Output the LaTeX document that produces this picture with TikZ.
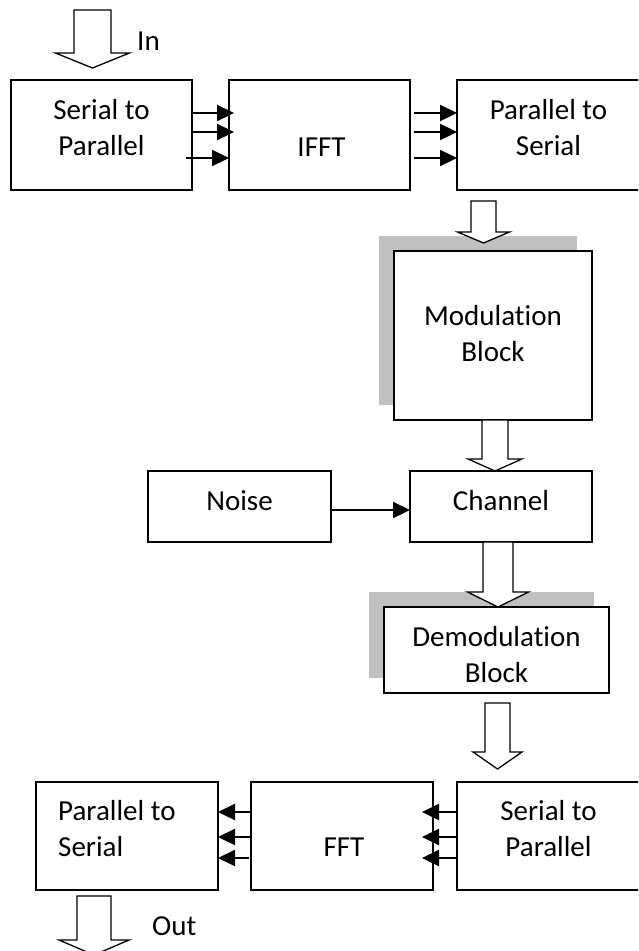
\documentclass[tikz,border=0pt]{standalone}
\usepackage{fontspec}
\setmainfont{Carlito}[Ligatures=NoCommon]
\usepackage{tikz}
\usetikzlibrary{positioning, arrows.meta, shadows, calc}
\definecolor{shadowgray}{RGB}{192,192,192}
\newcommand{\boxfont}{\fontsize{29}{36}\selectfont}
% hollow block arrow pointing down: x, from, to, half shaft, half head, head length
\newcommand{\hollowdown}[6]{%
  \draw[hollow] let \p1=(#2), \p2=(#3) in
    (#1pt-#4pt,\y1) -- (#1pt+#4pt,\y1) -- (#1pt+#4pt,\y2+#6pt) -- (#1pt+#5pt,\y2+#6pt)
    -- (#1pt,\y2) -- (#1pt-#5pt,\y2+#6pt) -- (#1pt-#4pt,\y2+#6pt) -- cycle;}
\tikzset{
x=1pt, y=-1pt, % one unit is one pixel, y runs downwards
>={Stealth[length=17pt,width=16pt,inset=0pt]}, % solid triangle heads
block/.style={draw, fill=white, line width=1.6pt, rectangle, inner sep=0pt, outer sep=0pt, anchor=north west}, % every box
raised/.style={drop shadow={shadow xshift=-15pt, shadow yshift=15.5pt, fill=shadowgray, opacity=1}}, % grey plate behind
txt/.style={font=\boxfont, align=center, inner sep=0pt, anchor=north}, % box texts
link/.style={->, line width=2.3pt}, % thin arrows between boxes
hollow/.style={draw, fill=white, line width=1.3pt}, % big open arrows
}
\begin{document}
\begin{tikzpicture}

    \useasboundingbox (0,0) rectangle (638,951);
    \clip (0,0) rectangle (638,951);
    \fill[white] (0,0) rectangle (638,951);

    % transmitter row
    \node[block, minimum width=181pt, minimum height=110pt] (sp1) at (11,80) {};
    \node[block, minimum width=181pt, minimum height=110pt, right=37pt of sp1] (ifft) {};
    \node[block, minimum width=183pt, minimum height=110pt, right=47pt of ifft] (ps1) {};

    % modulation, channel
    \node[block, raised, minimum width=198pt, minimum height=169pt] (mod) at (394,251) {};
    \node[block, minimum width=183pt, minimum height=71pt] (noise) at (148,471) {};
    \node[block, minimum width=182pt, minimum height=71pt, right=79pt of noise] (chan) {};
    \node[block, raised, minimum width=225pt, minimum height=86pt] (demod) at (384,607) {};

    % receiver row
    \node[block, minimum width=182pt, minimum height=108pt] (ps2) at (36,782) {};
    \node[block, minimum width=182pt, minimum height=108pt, right=33pt of ps2] (fft) {};
    \node[block, minimum width=183pt, minimum height=108pt, right=24pt of fft] (sp2) {};

    % texts
    \node[txt] (sp1t) at ([yshift=-13.8pt]sp1.north) {\strut Serial to\\\strut Parallel};
    \node[txt] (ifftt) at ([xshift=2pt,yshift=-50.8pt]ifft.north) {\strut IFFT};
    \node[txt] (ps1t) at ([yshift=-13.8pt]ps1.north) {\strut Parallel to\\\strut Serial};
    \node[txt] (modt) at ([yshift=-48.8pt]mod.north) {\strut Modulation\\\strut Block};
    \node[txt] (noiset) at ([yshift=-13.8pt]noise.north) {\strut Noise};
    \node[txt] (chant) at ([yshift=-13.8pt]chan.north) {\strut Channel};
    \node[txt] (demodt) at ([yshift=-13.8pt]demod.north) {\strut Demodulation\\\strut Block};
    \node[txt, anchor=north west, align=left] (ps2t) at ([xshift=22pt,yshift=-12.8pt]ps2.north west) {\strut Parallel to\\\strut Serial};
    \node[txt] (fftt) at ([xshift=2pt,yshift=-48.8pt]fft.north) {\strut FFT};
    \node[txt] (sp2t) at ([yshift=-12.8pt]sp2.north) {\strut Serial to\\\strut Parallel};
    \node[font=\boxfont, inner sep=0pt, anchor=base west] (inl) at (137,50) {In};
    \node[font=\boxfont, inner sep=0pt, anchor=base west] (outl) at (152,935) {Out};

    % thin arrows
    \draw[link, shorten >=-5pt] ([yshift=-33pt]sp1.north east) -- ([yshift=-33pt]ifft.north west);
    \draw[link, shorten >=-5pt] ([yshift=-52pt]sp1.north east) -- ([yshift=-52pt]ifft.north west);
    \draw[link, shorten <=-6pt] ([yshift=-78pt]sp1.north east) -- ([yshift=-78pt]ifft.north west);
    \draw[link, shorten <=4pt] ([yshift=-33pt]ifft.north east) -- ([yshift=-33pt]ps1.north west);
    \draw[link, shorten <=4pt] ([yshift=-52pt]ifft.north east) -- ([yshift=-52pt]ps1.north west);
    \draw[link, shorten <=4pt] ([yshift=-78pt]ifft.north east) -- ([yshift=-78pt]ps1.north west);
    \draw[link] ([yshift=-39pt]noise.north east) -- ([yshift=-39pt]chan.north west);
    \draw[link, shorten >=-11pt] ([yshift=-30pt]sp2.north west) -- ([yshift=-30pt]fft.north east);
    \draw[link, shorten >=-11pt] ([yshift=-55pt]sp2.north west) -- ([yshift=-55pt]fft.north east);
    \draw[link, shorten >=-11pt] ([yshift=-76pt]sp2.north west) -- ([yshift=-76pt]fft.north east);
    \draw[link] ([yshift=-30pt]fft.north west) -- ([yshift=-30pt]ps2.north east);
    \draw[link] ([yshift=-55pt]fft.north west) -- ([yshift=-55pt]ps2.north east);
    \draw[link, shorten <=2pt] ([yshift=-76pt]fft.north west) -- ([yshift=-76pt]ps2.north east);

    % open arrows
    \coordinate (inc) at (93,10);
    \coordinate (outc) at (94,955);
    \hollowdown{92.5}{inc}{[yshift=12pt]sp1.north}{18.5}{37}{15}
    \hollowdown{483.5}{[yshift=-11pt]ps1.south}{[yshift=8pt]mod.north}{12.5}{26}{11}
    \hollowdown{495}{mod.south}{chan.north}{13}{27}{12}
    \hollowdown{498}{chan.south}{demod.north}{15}{30.5}{15}
    \hollowdown{497.5}{[yshift=-10pt]demod.south}{[yshift=13pt]sp2.north}{12.5}{24.5}{17}
    \hollowdown{94}{[yshift=-6pt]ps2.south}{outc}{17}{35}{15}

\end{tikzpicture}
\end{document}
